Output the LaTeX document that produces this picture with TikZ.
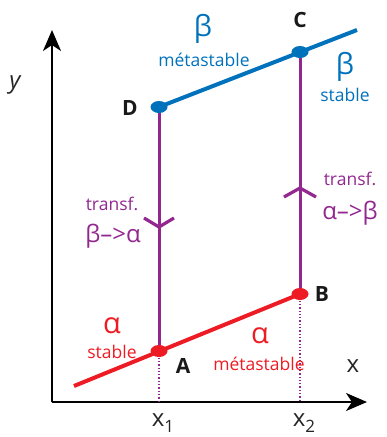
\documentclass[tikz,border=0pt]{standalone}
\usepackage{fontspec}
\setmainfont{Open Sans}
\usetikzlibrary{arrows.meta,shapes.geometric}
\definecolor{bblue}{RGB}{0,114,188}
\definecolor{rred}{RGB}{237,28,36}
\definecolor{ppurple}{RGB}{146,39,143}
\tikzset{
  axisline/.style={line width=2pt,-{Stealth[length=21pt,width=18pt,inset=6pt]}},
  phaseline/.style={line width=4pt},
  transline/.style={ppurple,line width=3pt},
  chev/.style={ppurple,line width=3.2pt,line join=miter},
  dropline/.style={ppurple,line width=1.3pt,dotted},
  ptdot/.style={ellipse,inner sep=0pt,minimum width=17pt,minimum height=12pt},
  ptlabel/.style={font=\fontsize{21}{21}\selectfont\bfseries,text=black!90,inner sep=0pt},
  lbl/.style={font=\fontsize{17.5}{19}\selectfont,inner sep=0pt},
  greek/.style={font=\fontsize{29}{30}\selectfont,inner sep=0pt},
  tgreek/.style={font=\fontsize{24}{26}\selectfont,inner sep=0pt},
  axlbl/.style={font=\fontsize{24}{26}\selectfont,inner sep=0pt,text=black!85}
}
\begin{document}
\begin{tikzpicture}[x=1pt,y=-1pt]
\useasboundingbox (0,0) rectangle (387,437);
% axes
\coordinate (O) at (52,402);
\coordinate (Ytop) at (52,30);
\coordinate (Xend) at (367,402);
\draw[axisline] (O) -- (Ytop);
\draw[axisline] (O) -- (Xend);
% key points
\coordinate (Aa) at (159,351);
\coordinate (Bb) at (300,294);
\coordinate (Cc) at (300,52);
\coordinate (Dd) at (159,107);
\coordinate (Rl) at (74,386);
\coordinate (Br) at (357,30);
\coordinate (X1) at (159,402);
\coordinate (X2) at (300,402);
% drop lines
\draw[dropline] (Aa) -- (X1);
\draw[dropline] (Bb) -- (X2);
% transformation lines
\draw[transline] (Dd) -- (Aa);
\draw[transline] (Cc) -- (Bb);
% chevrons
\coordinate (ch1) at (159,227);
\coordinate (ch2) at (300,188);
\draw[chev] ([xshift=-15pt,yshift=9pt]ch1) -- (ch1) -- ([xshift=15pt,yshift=9pt]ch1);
\draw[chev] ([xshift=-16pt,yshift=-9pt]ch2) -- (ch2) -- ([xshift=16pt,yshift=-9pt]ch2);
% phase lines
\draw[phaseline,rred] (Rl) -- (Bb);
\draw[phaseline,bblue] (Dd) -- (Br);
% dots
\node[ptdot,fill=rred] (A) at (Aa) {};
\node[ptdot,fill=rred] (B) at (Bb) {};
\node[ptdot,fill=bblue] (C) at (Cc) {};
\node[ptdot,fill=bblue] (D) at (Dd) {};
% point labels
\node[ptlabel] (lA) at (183,366) {A};
\node[ptlabel] (lB) at (322,294) {B};
\node[ptlabel] (lC) at (300,20) {C};
\node[ptlabel] (lD) at (130,108) {D};
% axis labels
\node[axlbl,font=\fontsize{24}{26}\selectfont\itshape] (ly) at (15,85) {y};
\node[axlbl] (lx) at (353,366) {x};
\node[axlbl] (lx1) at (163,423) {x\raisebox{-6pt}{\fontsize{17}{17}\selectfont 1}};
\node[axlbl] (lx2) at (304,423) {x\raisebox{-6pt}{\fontsize{17}{17}\selectfont 2}};
% beta labels
\node[greek,text=bblue] (b1) at (203,29) {β};
\node[lbl,text=bblue] (m1) at (204,60) {métastable};
\node[greek,text=bblue] (b2) at (345,67) {β};
\node[lbl,text=bblue] (s2) at (345,95) {stable};
% transformations
\node[lbl,text=ppurple] (t1) at (112,204) {transf.};
\node[tgreek,text=ppurple] (g1) at (113,236) {β–>α};
\node[lbl,text=ppurple] (t2) at (350,179) {transf.};
\node[tgreek,text=ppurple] (g2) at (350,213) {α–>β};
% alpha labels
\node[greek,text=rred] (a1) at (112,326) {α};
\node[lbl,text=rred] (s1) at (112,352) {stable};
\node[greek,text=rred] (a2) at (260,336) {α};
\node[lbl,text=rred] (m2) at (259,364) {métastable};
\end{tikzpicture}
\end{document}
